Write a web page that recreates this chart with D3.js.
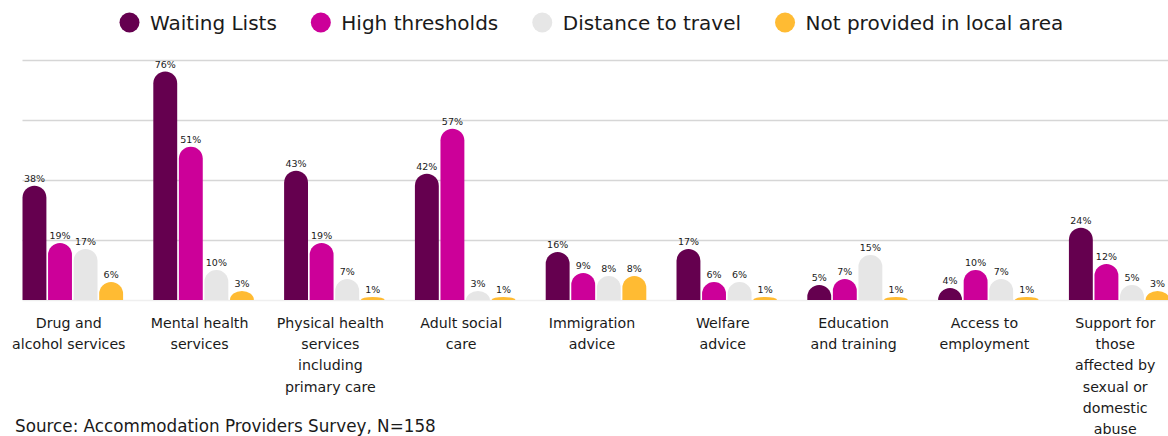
<!DOCTYPE html>
<html>
<head>
<meta charset="utf-8">
<script src="https://cdn.jsdelivr.net/npm/d3@7"></script>
<style>
  html, body { margin: 0; padding: 0; background: #ffffff; }
  svg { display: block; }
  text { font-family: "DejaVu Sans", sans-serif; fill: #1a1a1a; }
</style>
</head>
<body>
<svg id="chart" width="1168" height="436"></svg>
<script>
// Barriers to accessing support services (% of providers)
const categories = [
  ["Drug and", "alcohol services"],
  ["Mental health", "services"],
  ["Physical health", "services", "including", "primary care"],
  ["Adult social", "care"],
  ["Immigration", "advice"],
  ["Welfare", "advice"],
  ["Education", "and training"],
  ["Access to", "employment"],
  ["Support for", "those", "affected by", "sexual or", "domestic", "abuse"]
];
const seriesNames = ["Waiting Lists", "High thresholds", "Distance to travel", "Not provided in local area"];
const seriesColors = ["#65004f", "#cc0099", "#e6e6e6", "#ffbb33"];

const waitingLists    = [38, 76, 43, 42, 16, 17, 5, 4, 24];
const highThresholds  = [19, 51, 19, 57, 9, 6, 7, 10, 12];
const distanceTravel  = [17, 10, 7, 3, 8, 6, 15, 7, 5];
const notProvided     = [6, 3, 1, 1, 8, 1, 1, 1, 3];
const seriesValues = [waitingLists, highThresholds, distanceTravel, notProvided];

const gridTicks = [0, 20, 40, 60, 80];
const sourceNote = "Source: Accommodation Providers Survey, N=158";

const W = 1168, H = 436;
const svg = d3.select("#chart");

const plot = { left: 22.5, right: 1169.5, top: 59.5, bottom: 300 };

const x0 = d3.scaleBand()
  .domain(d3.range(categories.length))
  .range([plot.left, plot.right])
  .paddingInner(0.231)
  .paddingOuter(0);

const x1 = d3.scaleBand()
  .domain(d3.range(seriesNames.length))
  .range([0, x0.bandwidth()])
  .paddingInner(0.065)
  .paddingOuter(0);

const y = d3.scaleLinear().domain([0, 80]).range([plot.bottom, plot.top]);

// horizontal gridlines
svg.append("g")
  .selectAll("line")
  .data(gridTicks)
  .join("line")
  .attr("x1", plot.left)
  .attr("x2", W)
  .attr("y1", d => Math.round(y(d)) + 0.5)
  .attr("y2", d => Math.round(y(d)) + 0.5)
  .attr("stroke", d => d === 0 ? "#efefef" : "#d6d6d6")
  .attr("stroke-width", 1.4);

// bar with a rounded (half-circle or flattened dome) top
function roundedBar(x, w, yBase, yTop) {
  const h = yBase - yTop;
  const r = w / 2;
  if (h <= 0) return "";
  if (h >= r) {
    return `M${x},${yBase}V${yTop + r}A${r},${r} 0 0 1 ${x + w},${yTop + r}V${yBase}Z`;
  }
  return `M${x},${yBase}A${r},${h} 0 0 1 ${x + w},${yBase}Z`;
}

const groups = svg.append("g")
  .selectAll("g")
  .data(categories.map((c, i) => i))
  .join("g")
  .attr("transform", i => `translate(${x0(i)},0)`);

const cells = groups.selectAll("g.bar")
  .data(i => seriesValues.map((vals, s) => ({ s, v: vals[i] })))
  .join("g")
  .attr("class", "bar");

cells.append("path")
  .attr("d", d => roundedBar(x1(d.s), x1.bandwidth(), y(0), y(d.v)))
  .attr("fill", d => seriesColors[d.s]);

cells.append("text")
  .attr("x", d => x1(d.s) + x1.bandwidth() / 2)
  .attr("y", d => y(d.v) - 3.5)
  .attr("text-anchor", "middle")
  .attr("font-size", 9.5)
  .attr("fill", "#333")
  .text(d => d.v + "%");

// category labels
const catLabels = svg.append("g")
  .selectAll("text")
  .data(categories.map((lines, i) => ({ lines, i })))
  .join("text")
  .attr("text-anchor", "middle")
  .attr("font-size", 14.2)
  .attr("y", 328);

catLabels.selectAll("tspan")
  .data(d => d.lines.map(l => ({ l, i: d.i })))
  .join("tspan")
  .attr("x", d => x0(d.i) + x0.bandwidth() / 2 - 4)
  .attr("dy", (d, k) => k === 0 ? 0 : 21.2)
  .text(d => d.l);

// legend
const legend = svg.append("g").attr("transform", "translate(129.5,0)");
const items = legend.selectAll("g")
  .data(seriesNames.map((n, i) => ({ n, i })))
  .join("g");
items.append("circle")
  .attr("r", 10)
  .attr("cy", 22.5)
  .attr("fill", d => seriesColors[d.i]);
items.append("text")
  .attr("x", 20.5)
  .attr("y", 29.5)
  .attr("font-size", 20)
  .text(d => d.n);

let cursor = 0;
items.each(function () {
  const g = d3.select(this);
  const tw = g.select("text").node().getComputedTextLength();
  g.attr("transform", `translate(${cursor},0)`);
  cursor += 20.5 + tw + 44;
});

// source note
svg.append("text")
  .attr("x", 15)
  .attr("y", 432)
  .attr("font-size", 16.8)
  .text(sourceNote);
</script>
</body>
</html>
